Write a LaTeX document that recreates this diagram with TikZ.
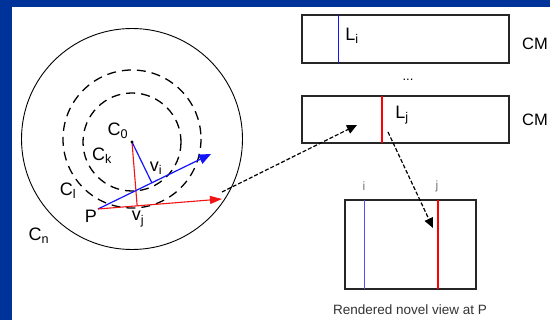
\documentclass[tikz,border=0pt]{standalone}
\usepackage{fontspec}
\setmainfont{Liberation Sans}
\usetikzlibrary{arrows.meta,calc}
\definecolor{frameblue}{RGB}{0,51,153}
\definecolor{rayblue}{RGB}{20,20,250}
\definecolor{rayred}{RGB}{240,20,20}
\tikzset{
  lbl/.style={inner sep=0pt, font=\fontsize{18}{18}\selectfont},
  cmlbl/.style={inner sep=0pt, anchor=west, font=\fontsize{16.5}{16.5}\selectfont},
  ringdash/.style={draw=black, line width=1.3pt, dash pattern=on 9pt off 6pt},
  panel/.style={draw=black!85, line width=1.1pt, inner sep=0pt},
  flow/.style={draw=black, line width=1.2pt, dash pattern=on 4pt off 2pt,
    -{Triangle[length=10pt,width=9pt]}},
  bluearrow/.style={draw=rayblue, line width=1.2pt, -{Triangle[length=12pt,width=10pt]}},
  redarrow/.style={draw=rayred, line width=1.1pt, -{Triangle[length=12pt,width=8pt]}},
  bluemark/.style={draw=rayblue, line width=1.6pt},
  redmark/.style={draw=red, line width=2pt},
}
\begin{document}
\begin{tikzpicture}[x=1pt,y=-1pt]
  \useasboundingbox (0,0) rectangle (550,320);
  \fill[frameblue] (0,0) rectangle (550,320);
  \fill[white] (12,7) rectangle (550,320);

  % concentric capture circles
  \draw[black, line width=0.9pt] (132,139) circle[radius=110.5];
  \draw[ringdash] (132,139) circle[radius=69];
  \draw[ringdash] (132,142) circle[radius=49];

  % key points
  \coordinate (C0) at (132,142);
  \coordinate (P) at (98,209);
  \coordinate (bt) at (211,154);
  \coordinate (rt) at (222,199);
  \coordinate (vi) at ($(P)!(C0)!(bt)$);
  \coordinate (vj) at ($(P)!(C0)!(rt)$);

  % rays from P and their perpendiculars from the centre
  \draw[rayred, line width=1.1pt] (C0) -- (vj);
  \draw[rayblue, line width=1.2pt] (C0) -- (vi);
  \draw[bluearrow] (P) -- (bt);
  \draw[redarrow] (P) -- (rt);
  \fill[black] (C0) circle[radius=1.7];

  % circle and point labels
  \node[lbl] (lC0) at (118,131) {C\textsubscript{0}};
  \node[lbl] (lCk) at (102,156) {C\textsubscript{k}};
  \node[lbl] (lCl) at (68,191) {C\textsubscript{l}};
  \node[lbl] (lCn) at (39,236) {C\textsubscript{n}};
  \node[lbl] (lP) at (91,216) {P};
  \node[lbl] (lvi) at (156,168) {v\textsubscript{i}};
  \node[lbl] (lvj) at (138,219) {v\textsubscript{j}};

  % concentric mosaics, each with its selected column
  \node[panel, minimum width=207pt, minimum height=48pt] (cmi) at (405.5,39) {};
  \node[panel, minimum width=207pt, minimum height=47pt] (cmj) at (405.5,119.5) {};
  \draw[bluemark] (338.5,15) -- (338.5,63);
  \draw[redmark] (381.5,96) -- (381.5,143);
  \node[lbl] (lLi) at (352,36) {L\textsubscript{i}};
  \node[lbl] (lLj) at (402,115) {L\textsubscript{j}};
  \node[cmlbl] (cm1) at (522,44) {CM};
  \node[cmlbl] (cm2) at (522,120) {CM};
  \node[lbl, font=\fontsize{13}{13}\selectfont] (dots) at (408,80) {...};

  % rendered view
  \node[panel, minimum width=131pt, minimum height=89pt] (view) at (410.5,244.5) {};
  \draw[bluemark, draw=rayblue!75] (364.5,200) -- (364.5,289);
  \draw[redmark] (437.5,200) -- (437.5,289);
  \node[lbl, text=black!55, font=\fontsize{12}{12}\selectfont] (li) at (364,186) {i};
  \node[lbl, text=black!55, font=\fontsize{12}{12}\selectfont] (lj) at (437,186) {j};
  \node[lbl, text=black!80, font=\fontsize{13.5}{14}\selectfont] (cap) at (410,310) {Rendered novel view at P};

  % lookup flow
  \coordinate (s1) at (222,192);
  \coordinate (e1) at (357,125);
  \coordinate (s2) at (388,132);
  \coordinate (e2) at (433,228);
  \draw[flow] (s1) -- (e1);
  \draw[flow] (s2) -- (e2);
\end{tikzpicture}
\end{document}
